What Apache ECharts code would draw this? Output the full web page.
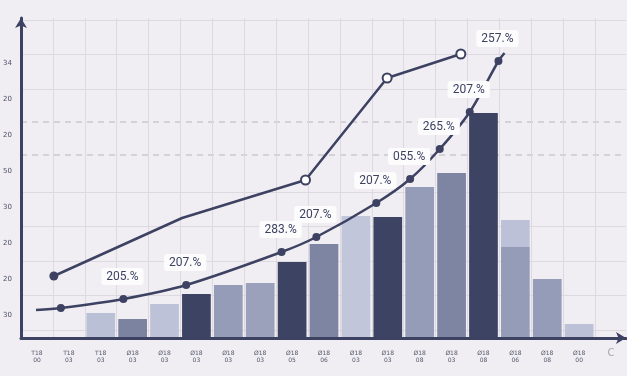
<!DOCTYPE html>
<html>
<head>
<meta charset="utf-8">
<script src="https://cdn.jsdelivr.net/npm/echarts@6/dist/echarts.min.js"></script>
<style>
  html, body { margin: 0; padding: 0; background: #f0eef3; }
  #chart { width: 627px; height: 376px; }
</style>
</head>
<body>
<div id="chart"></div>
<script>
// categories along the bottom (garbled in the source, kept as seen)
var categories = ['T18\n00', 'T18\n03', 'T18\n03', 'Ø18\n03', 'Ø18\n03', 'Ø18\n03', 'Ø18\n03', 'Ø18\n03', 'Ø18\n05',
    'Ø18\n06', 'Ø18\n03', 'Ø18\n03', 'Ø18\n08', 'Ø18\n03', 'Ø18\n08', 'Ø18\n06', 'Ø18\n08', 'Ø18\n00', 'C'];
var yTickLabels = ['30', '20', '20', '30', '50', '20', '20', '34'];

// bars (height above the axis)
var barBase = ['-', '-', 25, 19, 34, 44, 53, 55, 76, 94, 122, 121, 151, 165, 225, 91, 59, 14, '-'];
var barTop = ['-', '-', '-', '-', '-', '-', '-', '-', '-', '-', '-', '-', '-', '-', '-', 27, '-', '-', '-'];
var barColors = ['#bcc1d8', '#bcc1d8', '#bac0d6', '#7c83a0', '#bdc2d8', '#3d4362', '#959cb7', '#9ba1bb', '#3d4362',
    '#7e85a2', '#c2c6db', '#3d4362', '#959cb7', '#7e85a2', '#3d4362', '#959cb7', '#959cb7', '#bcc1d8', '#bcc1d8'];

// lower curve (x in category units)
var lineAX = [-0.03, 0.75, 2.71, 4.68, 7.67, 8.76, 10.64, 11.70, 12.63, 13.57, 14.47, 14.66];
var lineAY = [28, 30, 39, 53, 86, 101, 135, 159, 189, 226, 277, 285];
var lineALabels = ['', '', '205.%', '207.%', '283.%', '207.%', '207.%', '055.%', '265.%', '207.%', '257.%', ''];

// upper polyline
var lineBX = [0.53, 4.55, 8.42, 10.98, 13.29];
var lineBY = [62, 120, 158, 260, 284];
var lineBMarks = ['dot', 'none', 'ring', 'ring', 'ring'];

var ink = '#3d4262';

var chart = echarts.init(document.getElementById('chart'));

var barBaseData = barBase.map(function (v, i) {
    return { value: v, itemStyle: { color: barColors[i] } };
});
var barTopData = barTop.map(function (v) {
    return { value: v, itemStyle: { color: '#bcc1d8' } };
});

var lineAData = lineAX.map(function (x, i) {
    var first = i === 0 || i === lineAX.length - 1;
    return {
        value: [x, lineAY[i]],
        symbol: first ? 'none' : 'circle',
        label: { show: lineALabels[i] !== '' }
    };
});

var lineBData = lineBX.map(function (x, i) {
    var m = lineBMarks[i];
    return {
        value: [x, lineBY[i]],
        symbol: m === 'none' ? 'none' : 'circle',
        itemStyle: m === 'ring' ? { color: '#fff', borderColor: ink, borderWidth: 2 } : { color: ink }
    };
});

var option = {
    backgroundColor: '#f0eef3',
    animation: false,
    grid: [
        { left: 21, top: 18, width: 609, bottom: 38 },
        { left: 21, top: 20, width: 605, bottom: 46 },
        { left: 21, top: 63, width: 605, bottom: 61 },
        { left: 21, top: 122, width: 605, height: 33 },
        { left: 21, top: 18, width: 605, bottom: 38 }
    ],
    xAxis: [
        {
            gridIndex: 0, type: 'category', data: categories,
            axisLine: { show: false }, axisTick: { show: false },
            splitLine: { show: true, lineStyle: { color: '#dcd9e1', width: 1 } },
            axisLabel: {
                margin: 12, fontSize: 6, lineHeight: 7, color: '#54586c', fontFamily: 'DejaVu Sans',
                formatter: function (v) { return v === 'C' ? '{c|C}' : v; },
                rich: { c: { fontSize: 10, color: '#a4a6b2', fontFamily: 'DejaVu Sans' } }
            }
        },
        { gridIndex: 0, type: 'value', min: -0.5, max: 18.5, show: false },
        { gridIndex: 1, type: 'value', show: false },
        { gridIndex: 2, type: 'value', show: false },
        { gridIndex: 3, type: 'value', show: false },
        {
            gridIndex: 4, type: 'value', min: 0, max: 1, z: 10,
            axisLine: { show: true, symbol: ['none', 'arrow'], symbolSize: [9, 10], lineStyle: { color: ink, width: 3 } },
            axisTick: { show: false }, axisLabel: { show: false }, splitLine: { show: false }
        }
    ],
    yAxis: [
        { gridIndex: 0, type: 'value', min: 0, max: 320, show: false },
        {
            gridIndex: 1, type: 'value', min: 0, max: 9, interval: 1,
            axisLine: { show: false }, axisTick: { show: false }, axisLabel: { show: false },
            splitLine: {
                show: true,
                lineStyle: {
                    width: 1,
                    color: ['#dcd9e1', '#dcd9e1', '#dcd9e1', '#dcd9e1', '#dcd9e1', 'rgba(0,0,0,0)', 'rgba(0,0,0,0)', '#dcd9e1', '#dcd9e1', '#dcd9e1']
                }
            }
        },
        {
            gridIndex: 2, type: 'category', data: yTickLabels, boundaryGap: false,
            axisLine: { show: false }, axisTick: { show: false }, splitLine: { show: false },
            axisLabel: { margin: 15, fontSize: 7, color: '#4e5266', fontFamily: 'DejaVu Sans' }
        },
        {
            gridIndex: 3, type: 'value', min: 0, max: 1, interval: 1,
            axisLine: { show: false }, axisTick: { show: false }, axisLabel: { show: false },
            splitLine: { show: true, lineStyle: { type: [6, 5], color: '#cbc8d2', width: 1.5 } }
        },
        {
            gridIndex: 4, type: 'value', min: 0, max: 1, z: 10,
            axisLine: { show: true, symbol: ['none', 'arrow'], symbolSize: [9, 10], lineStyle: { color: ink, width: 3 } },
            axisTick: { show: false }, axisLabel: { show: false }, splitLine: { show: false }
        }
    ],
    series: [
        {
            type: 'bar', xAxisIndex: 0, yAxisIndex: 0, stack: 'b',
            barCategoryGap: '10%', data: barBaseData
        },
        {
            type: 'bar', xAxisIndex: 0, yAxisIndex: 0, stack: 'b',
            barCategoryGap: '10%', data: barTopData
        },
        {
            type: 'line', xAxisIndex: 1, yAxisIndex: 0, z: 4,
            data: lineBData, symbolSize: 9,
            lineStyle: { color: ink, width: 2.5 }
        },
        {
            type: 'line', xAxisIndex: 1, yAxisIndex: 0, z: 4,
            data: lineAData, smooth: 0.3, symbolSize: 8,
            itemStyle: { color: ink },
            lineStyle: { color: ink, width: 2.5 },
            label: {
                position: 'top', distance: 8, offset: [-1, -2],
                formatter: function (p) { return lineALabels[p.dataIndex]; },
                backgroundColor: '#fcfcfd', borderRadius: 3, padding: [3, 5, 2, 5],
                fontSize: 12, color: '#3d4262', fontFamily: 'Roboto'
            }
        }
    ]
};

chart.setOption(option);
</script>
</body>
</html>
